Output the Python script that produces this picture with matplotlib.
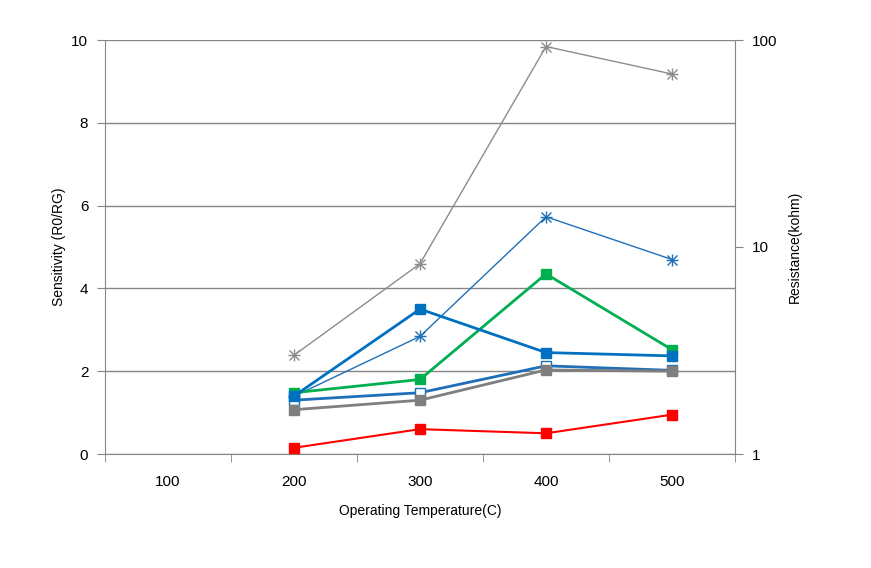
import numpy as np
import matplotlib.pyplot as plt
from matplotlib.ticker import FixedLocator, NullFormatter

plt.rcParams['font.family'] = ['Liberation Sans', 'DejaVu Sans']

temps = ['100', '200', '300', '400', '500']
x_pts = [1, 2, 3, 4]

# sensitivity series (left axis)
sens_blue = [1.40, 3.50, 2.45, 2.37]
sens_green = [1.48, 1.80, 4.35, 2.52]
sens_blue_open = [1.30, 1.48, 2.13, 2.02]
sens_gray = [1.07, 1.30, 2.03, 2.00]
sens_red = [0.15, 0.60, 0.50, 0.95]

# resistance series (right axis, log)
res_gray = [3.0, 8.3, 93.0, 68.5]
res_blue = [1.9, 3.7, 14.0, 8.7]

fig = plt.figure(figsize=(8.71, 5.68), dpi=100)
ax = fig.add_axes([105/871, 1-454/568, 630/871, 414/568])
ax2 = ax.twinx()

gc = '#868686'
ax.set_xlim(-0.5, 4.5)
ax.set_ylim(0, 10)
ax.set_yticks([0, 2, 4, 6, 8, 10])
ax.set_xticks(range(5))
ax.set_xticklabels(temps)
ax.xaxis.set_minor_locator(FixedLocator([-0.5, 0.5, 1.5, 2.5, 3.5, 4.5]))
ax.tick_params(axis='x', which='major', length=0, labelsize=11, pad=15)
ax.tick_params(axis='x', which='minor', length=6, color=gc, direction='out')
ax.tick_params(axis='y', length=6, color=gc, labelsize=11, pad=6)
ax.grid(axis='y', color=gc, linewidth=1)
ax.set_axisbelow(True)
for s in ['top', 'right']:
    ax.spines[s].set_visible(False)
for s in ['left', 'bottom']:
    ax.spines[s].set_color(gc)
ax.set_ylabel('Sensitivity (R0/RG)', fontsize=10, labelpad=4)
ax.set_xlabel('Operating Temperature(C)', fontsize=10, labelpad=11)

ax2.set_yscale('log')
ax2.set_ylim(1, 100)
ax2.yaxis.set_major_locator(FixedLocator([1, 10, 100]))
ax2.set_yticklabels(['1', '10', '100'])
ax2.yaxis.set_minor_locator(FixedLocator([]))
ax2.yaxis.set_minor_formatter(NullFormatter())
ax2.tick_params(axis='y', length=6, color=gc, labelsize=11, pad=6)
for s in ['top', 'left', 'bottom']:
    ax2.spines[s].set_visible(False)
ax2.spines['right'].set_color(gc)
ax2.set_ylabel('Resistance(kohm)', fontsize=10, labelpad=8)

for vals, col in [(res_gray, '#8c8c8c'), (res_blue, '#1f6fb8')]:
    ax2.plot(x_pts, vals, color=col, linewidth=1, marker='x', markersize=7,
             markeredgewidth=1)
    ax2.plot(x_pts, vals, color=col, linewidth=0, marker='+', markersize=8,
             markeredgewidth=1)

ms = 7.5
ax2.plot(x_pts, sens_blue_open, color='#1f6fb8', linewidth=2, marker='s', markersize=ms,
         markerfacecolor='white', transform=ax.transData)
ax2.plot(x_pts, sens_gray, color='#7f7f7f', linewidth=2, marker='s', markersize=ms,
         transform=ax.transData)
ax2.plot(x_pts, sens_green, color='#00b050', linewidth=2, marker='s', markersize=ms,
         transform=ax.transData)
ax2.plot(x_pts, sens_blue, color='#0070c0', linewidth=2, marker='s', markersize=ms,
         transform=ax.transData)
ax2.plot(x_pts, sens_red, color='#ff0000', linewidth=1.5, marker='s', markersize=ms,
         transform=ax.transData)

fig.savefig('out.png', dpi=100)
